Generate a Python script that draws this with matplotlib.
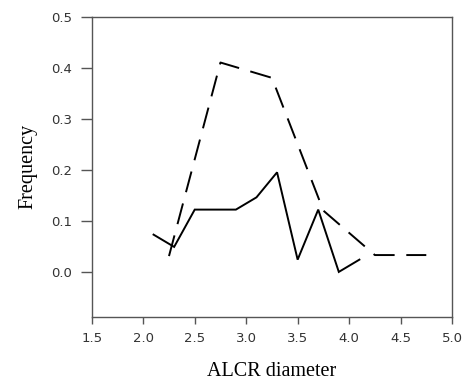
import matplotlib
matplotlib.use('Agg')
import matplotlib.pyplot as plt

# Data
solid_x = [2.1, 2.3, 2.5, 2.7, 2.9, 3.1, 3.3, 3.5, 3.7, 3.9, 4.1]
solid_y = [0.073, 0.049, 0.122, 0.122, 0.122, 0.146, 0.195, 0.024, 0.122, 0.0, 0.024]

dashed_x = [2.25, 2.75, 3.25, 3.75, 4.25, 4.75]
dashed_y = [0.031, 0.41, 0.38, 0.12, 0.033, 0.033]

x_ticks = [1.5, 2.0, 2.5, 3.0, 3.5, 4.0, 4.5, 5.0]
y_ticks = [0.0, 0.1, 0.2, 0.3, 0.4, 0.5]

fig = plt.figure(figsize=(4.66, 3.85), dpi=100)
ax = fig.add_axes([0.197, 0.177, 0.773, 0.78])

ax.plot(solid_x, solid_y, color='black', lw=1.4, solid_joinstyle='miter')
ax.plot(dashed_x, dashed_y, color='black', lw=1.4, dashes=(11, 6))

ax.set_xlim(1.5, 5.0)
ax.set_ylim(-0.088, 0.5)
ax.set_xticks(x_ticks)
ax.set_yticks(y_ticks)
ax.set_xticklabels(['%.1f' % v for v in x_ticks])
ax.set_yticklabels(['%.1f' % v for v in y_ticks])

for s in ax.spines.values():
    s.set_color('#555555')
    s.set_linewidth(1.0)

ax.tick_params(direction='out', width=1.0, color='#555555',
               labelsize=9.5, labelcolor='#333333', pad=6)
ax.tick_params(axis='x', length=5)
ax.tick_params(axis='y', length=8)
for lab in ax.get_xticklabels() + ax.get_yticklabels():
    lab.set_family('DejaVu Sans')

ax.set_xlabel('ALCR diameter', family='Liberation Serif', fontsize=14.5, labelpad=12)
ax.set_ylabel('Frequency', family='Liberation Serif', fontsize=14.5, labelpad=10)

fig.savefig('out.png', dpi=100)
